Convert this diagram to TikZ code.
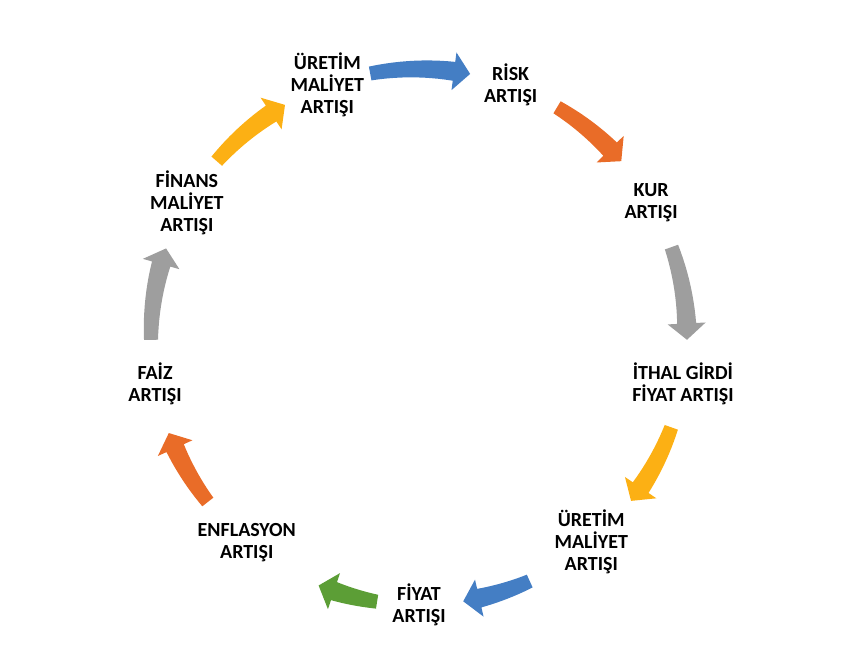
\documentclass[tikz,border=0pt]{standalone}
\usepackage{fontspec}
\setmainfont{Carlito}
\usepackage{tikz}
\usepackage{xcolor}

\definecolor{cblue}{RGB}{68,126,196}
\definecolor{corange}{RGB}{233,108,40}
\definecolor{cgray}{RGB}{158,158,158}
\definecolor{cgold}{RGB}{252,176,20}
\definecolor{cgreen}{RGB}{92,158,54}

\tikzset{lbl/.style={align=center, font=\bfseries\fontsize{20}{22}\selectfont}}

\begin{document}
\begin{tikzpicture}[x=1pt,y=1pt]
\useasboundingbox (0,0) rectangle (861,665);
\begin{scope}[shift={(419,328)}]
\coordinate (m) at (0,0);
\node[lbl] (uretim) at (110:268) {ÜRETİM\\MALİYET\\ARTIŞI};
\node[lbl] (risk) at (70:268) {RİSK\\ARTIŞI};
\node[lbl] (kur) at (30:268) {KUR\\ARTIŞI};
\node[lbl] (ithal) at (-10:268) {İTHAL GİRDİ\\FİYAT ARTIŞI};
\node[lbl] (uretimb) at (-50:268) {ÜRETİM\\MALİYET\\ARTIŞI};
\node[lbl] (fiyat) at (-90:268) {FİYAT\\ARTIŞI};
\node[lbl] (enflasyon) at (230:268) {ENFLASYON\\ARTIŞI};
\node[lbl] (faiz) at (190:268) {FAİZ\\ARTIŞI};
\node[lbl] (finans) at (150:268) {FİNANS\\MALİYET\\ARTIŞI};
% curved arrows, clockwise: tail angle / tip angle / colour
\foreach \s/\t/\c in {100.5/79/cblue,59/41/corange,19.6/-0.6/cgray,-19.7/-37.7/cgold,-65.6/-80.5/cblue,-99/-112/cgreen,-142/-159/corange,180.6/160.7/cgray,139/120/cgold}{
  \pgfmathsetmacro\b{\t+3.5}
  \pgfmathsetmacro\l{\s-\b}
  \fill[\c] plot[domain=\s:\b,samples=12] (\x:{275+2.5*(\s-\x)/\l})
    -- (\b:287) -- (\t:268) -- (\b:249)
    -- plot[domain=\b:\s,samples=12] (\x:{261-2.5*(\s-\x)/\l}) -- cycle;
}
\end{scope}
\end{tikzpicture}
\end{document}
